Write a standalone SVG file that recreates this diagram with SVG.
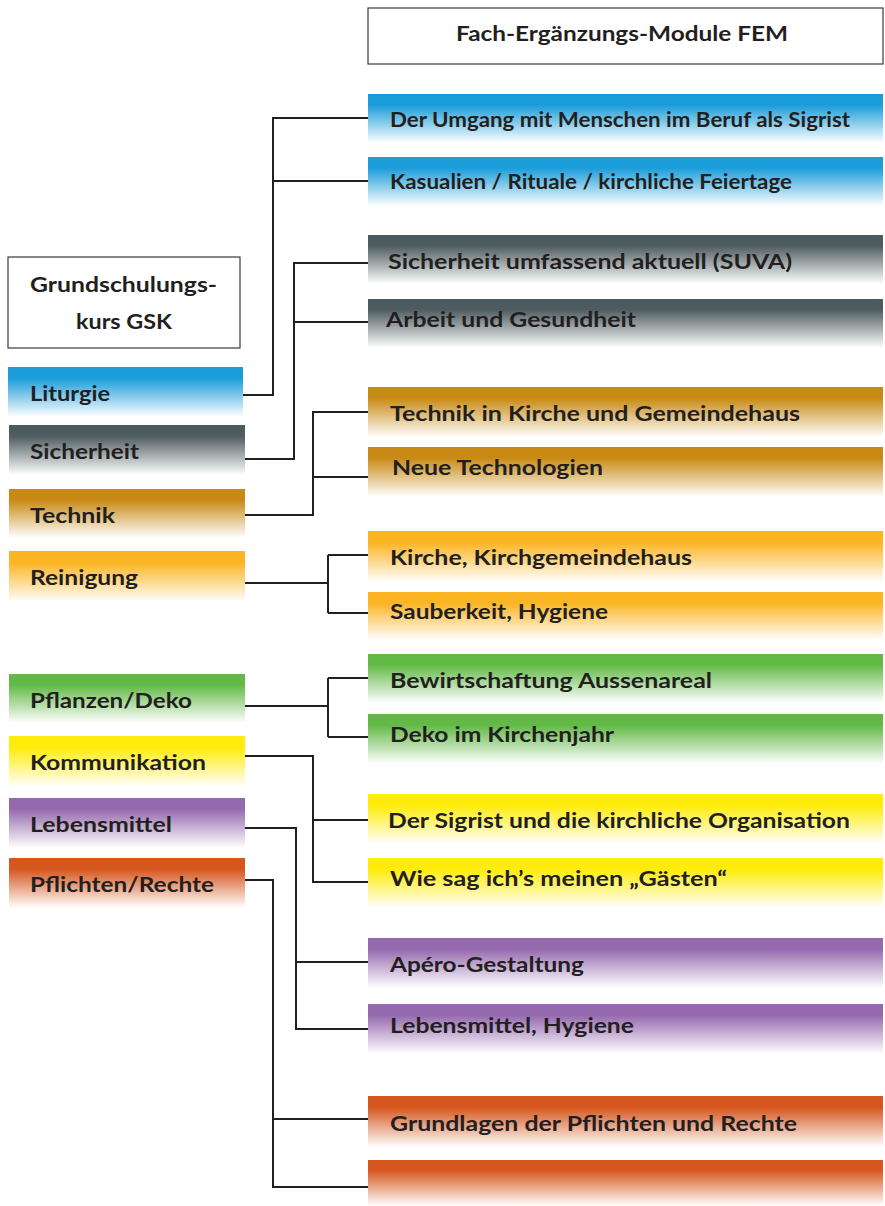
<svg xmlns="http://www.w3.org/2000/svg" width="885" height="1206" viewBox="0 0 885 1206">
<defs>
<linearGradient id="gBlue" x1="0" y1="0" x2="0" y2="1"><stop offset="0" stop-color="#1a9cd9"/><stop offset="0.22" stop-color="#1a9cd9"/><stop offset="1" stop-color="#ffffff"/></linearGradient>
<linearGradient id="gGray" x1="0" y1="0" x2="0" y2="1"><stop offset="0" stop-color="#4a5a5e"/><stop offset="0.22" stop-color="#4f5c60"/><stop offset="1" stop-color="#ffffff"/></linearGradient>
<linearGradient id="gOchre" x1="0" y1="0" x2="0" y2="1"><stop offset="0" stop-color="#c88a14"/><stop offset="0.22" stop-color="#c88a14"/><stop offset="1" stop-color="#ffffff"/></linearGradient>
<linearGradient id="gAmber" x1="0" y1="0" x2="0" y2="1"><stop offset="0" stop-color="#fbb422"/><stop offset="0.22" stop-color="#fbb422"/><stop offset="1" stop-color="#ffffff"/></linearGradient>
<linearGradient id="gGreen" x1="0" y1="0" x2="0" y2="1"><stop offset="0" stop-color="#62b946"/><stop offset="0.22" stop-color="#62b946"/><stop offset="1" stop-color="#ffffff"/></linearGradient>
<linearGradient id="gYellow" x1="0" y1="0" x2="0" y2="1"><stop offset="0" stop-color="#ffec0a"/><stop offset="0.22" stop-color="#ffec0a"/><stop offset="1" stop-color="#ffffff"/></linearGradient>
<linearGradient id="gPurple" x1="0" y1="0" x2="0" y2="1"><stop offset="0" stop-color="#9569ae"/><stop offset="0.22" stop-color="#9569ae"/><stop offset="1" stop-color="#ffffff"/></linearGradient>
<linearGradient id="gRed" x1="0" y1="0" x2="0" y2="1"><stop offset="0" stop-color="#d5561e"/><stop offset="0.22" stop-color="#d5561e"/><stop offset="1" stop-color="#ffffff"/></linearGradient>
</defs>
<style>
text{font-family:Lato,"Liberation Sans",sans-serif;font-weight:700;font-size:21px;fill:#231f20}
.box{fill:#ffffff;stroke:#3a3a3a;stroke-width:1.2}
.conn path{fill:none;stroke:#231f20;stroke-width:2}
</style>
<rect width="885" height="1206" fill="#ffffff"/>

<g id="header">
<rect class="box" x="368" y="8" width="515" height="56"/>
<text x="456" y="41" textLength="332" lengthAdjust="spacingAndGlyphs">Fach-Ergänzungs-Module FEM</text>
</g>

<g id="gsk">
<rect class="box" x="8" y="257" width="232" height="91"/>
<text x="30" y="292" textLength="187" lengthAdjust="spacingAndGlyphs">Grundschulungs-</text>
<text x="76" y="329" textLength="96" lengthAdjust="spacingAndGlyphs">kurs GSK</text>
</g>

<g id="l-liturgie"><rect x="8" y="367" width="235" height="50" fill="url(#gBlue)"/><text x="30" y="401" textLength="80" lengthAdjust="spacingAndGlyphs">Liturgie</text></g>
<g id="l-sicherheit"><rect x="9" y="425" width="236" height="50" fill="url(#gGray)"/><text x="30" y="459" textLength="109" lengthAdjust="spacingAndGlyphs">Sicherheit</text></g>
<g id="l-technik"><rect x="9" y="489" width="236" height="49" fill="url(#gOchre)"/><text x="30" y="523" textLength="85" lengthAdjust="spacingAndGlyphs">Technik</text></g>
<g id="l-reinigung"><rect x="9" y="551" width="236" height="51" fill="url(#gAmber)"/><text x="30" y="585" textLength="108" lengthAdjust="spacingAndGlyphs">Reinigung</text></g>
<g id="l-pflanzen"><rect x="9" y="674" width="236" height="49" fill="url(#gGreen)"/><text x="30" y="708" textLength="162" lengthAdjust="spacingAndGlyphs">Pflanzen/Deko</text></g>
<g id="l-kommunikation"><rect x="9" y="736" width="236" height="51" fill="url(#gYellow)"/><text x="30" y="770" textLength="176" lengthAdjust="spacingAndGlyphs">Kommunikation</text></g>
<g id="l-lebensmittel"><rect x="9" y="798" width="236" height="50" fill="url(#gPurple)"/><text x="30" y="832" textLength="142" lengthAdjust="spacingAndGlyphs">Lebensmittel</text></g>
<g id="l-pflichten"><rect x="9" y="858" width="236" height="50" fill="url(#gRed)"/><text x="30" y="892" textLength="184" lengthAdjust="spacingAndGlyphs">Pflichten/Rechte</text></g>

<g id="r-umgang"><rect x="368" y="94" width="515" height="49" fill="url(#gBlue)"/><text x="390" y="127" textLength="460" lengthAdjust="spacingAndGlyphs">Der Umgang mit Menschen im Beruf als Sigrist</text></g>
<g id="r-kasualien"><rect x="368" y="157" width="515" height="49" fill="url(#gBlue)"/><text x="390" y="189" textLength="402" lengthAdjust="spacingAndGlyphs">Kasualien / Rituale / kirchliche Feiertage</text></g>
<g id="r-suva"><rect x="368" y="235" width="515" height="49" fill="url(#gGray)"/><text x="388" y="269" textLength="404" lengthAdjust="spacingAndGlyphs">Sicherheit umfassend aktuell (SUVA)</text></g>
<g id="r-arbeit"><rect x="368" y="299" width="515" height="49" fill="url(#gGray)"/><text x="386" y="327" textLength="250" lengthAdjust="spacingAndGlyphs">Arbeit und Gesundheit</text></g>
<g id="r-technik-kirche"><rect x="368" y="387" width="515" height="50" fill="url(#gOchre)"/><text x="390" y="421" textLength="410" lengthAdjust="spacingAndGlyphs">Technik in Kirche und Gemeindehaus</text></g>
<g id="r-neue"><rect x="368" y="447" width="515" height="50" fill="url(#gOchre)"/><text x="392" y="475" textLength="211" lengthAdjust="spacingAndGlyphs">Neue Technologien</text></g>
<g id="r-kirche"><rect x="368" y="531" width="515" height="51" fill="url(#gAmber)"/><text x="390" y="565" textLength="302" lengthAdjust="spacingAndGlyphs">Kirche, Kirchgemeindehaus</text></g>
<g id="r-sauberkeit"><rect x="368" y="592" width="515" height="48" fill="url(#gAmber)"/><text x="390" y="619" textLength="218" lengthAdjust="spacingAndGlyphs">Sauberkeit, Hygiene</text></g>
<g id="r-bewirtschaftung"><rect x="368" y="654" width="515" height="49" fill="url(#gGreen)"/><text x="390" y="688" textLength="322" lengthAdjust="spacingAndGlyphs">Bewirtschaftung Aussenareal</text></g>
<g id="r-deko"><rect x="368" y="714" width="515" height="50" fill="url(#gGreen)"/><text x="390" y="742" textLength="224" lengthAdjust="spacingAndGlyphs">Deko im Kirchenjahr</text></g>
<g id="r-sigrist"><rect x="368" y="794" width="515" height="50" fill="url(#gYellow)"/><text x="388" y="828" textLength="462" lengthAdjust="spacingAndGlyphs">Der Sigrist und die kirchliche Organisation</text></g>
<g id="r-wiesag"><rect x="368" y="858" width="515" height="50" fill="url(#gYellow)"/><text x="390" y="886" textLength="337" lengthAdjust="spacingAndGlyphs">Wie sag ich’s meinen „Gästen“</text></g>
<g id="r-apero"><rect x="368" y="938" width="515" height="50" fill="url(#gPurple)"/><text x="390" y="972" textLength="194" lengthAdjust="spacingAndGlyphs">Apéro-Gestaltung</text></g>
<g id="r-lebensmittel"><rect x="368" y="1004" width="515" height="50" fill="url(#gPurple)"/><text x="390" y="1033" textLength="244" lengthAdjust="spacingAndGlyphs">Lebensmittel, Hygiene</text></g>
<g id="r-grundlagen"><rect x="368" y="1096" width="515" height="51" fill="url(#gRed)"/><text x="390" y="1131" textLength="407" lengthAdjust="spacingAndGlyphs">Grundlagen der Pflichten und Rechte</text></g>
<g id="r-empty"><rect x="368" y="1160" width="515" height="46" fill="url(#gRed)"/></g>

<g id="connectors" class="conn">
<path d="M243 395 H273 V118 H368 M273 181 H368"/>
<path d="M245 459 H294 V263 H368 M294 322 H368"/>
<path d="M245 515 H313 V412 H368 M313 477 H368"/>
<path d="M245 583 H328 M328 555 V613 M328 555 H368 M328 613 H368"/>
<path d="M245 706 H328 M328 678 V737 M328 678 H368 M328 737 H368"/>
<path d="M245 756 H313 V882 H368 M313 820 H368"/>
<path d="M245 828 H296 V1029 H368 M296 962 H368"/>
<path d="M245 880 H273 V1187 H368 M273 1119 H368"/>
</g>
</svg>
